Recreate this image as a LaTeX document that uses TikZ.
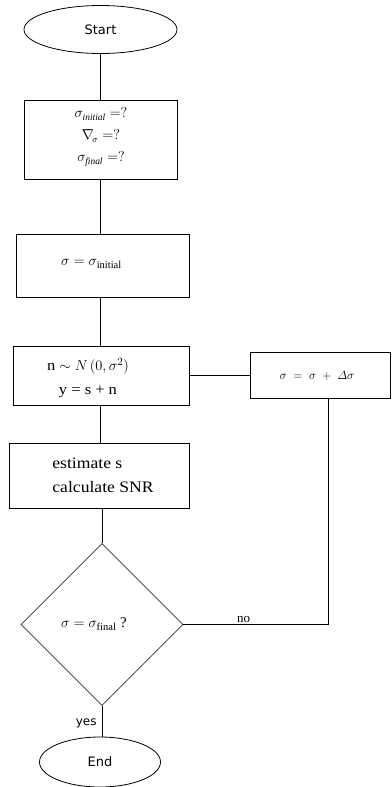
\documentclass[tikz,border=0pt]{standalone}
\usepackage{amsmath}
\usepackage{fontspec}
\setmainfont{Liberation Serif}
\newfontfamily\sansf{DejaVu Sans}
\newfontfamily\wideserif[FakeStretch=1.1]{Liberation Serif}
\usetikzlibrary{shapes.geometric}
\begin{document}
\begin{tikzpicture}[x=1pt,y=-1pt,line width=0.8pt,
  boxst/.style={draw,rectangle,inner sep=0pt},
  term/.style={draw,ellipse,inner sep=0pt,font=\sansf\fontsize{13}{15}\selectfont},
  decide/.style={draw,diamond,aspect=1,inner sep=0pt,draw=black!80},
  txt/.style={inner sep=0pt,align=center},
  lbl/.style={inner sep=1pt}]
\useasboundingbox (0,0) rectangle (391,787);
% shapes
\node[term,minimum width=153pt,minimum height=48pt] (start) at (100.5,29.5) {Start};
\node[boxst,minimum width=153pt,minimum height=79pt] (b1) at (100.5,139.5) {};
\node[boxst,minimum width=173pt,minimum height=63pt] (b2) at (102.5,265.5) {};
\node[boxst,minimum width=176pt,minimum height=59pt] (b3) at (101,375.5) {};
\node[boxst,minimum width=180pt,minimum height=65pt] (b4) at (99,475.5) {};
\node[boxst,minimum width=140pt,minimum height=46pt] (rb) at (320,375) {};
\node[decide,minimum width=162pt,minimum height=162pt] (dia) at (102,624.5) {};
\node[term,minimum width=121pt,minimum height=50pt] (end) at (100,762) {End};
% texts
\node[txt,font=\fontsize{13.5}{22}\selectfont] (t1) at (101,137)
  {$\sigma_{\mathit{initial}} = ?$\\ $\nabla_{\!\sigma} = ?$\\ $\sigma_{\mathit{final}} = ?$};
\node[txt,font=\fontsize{15}{18}\selectfont] (t2) at (91.5,264) {$\sigma = \sigma_{\mathrm{initial}}$};
\node[txt,font=\wideserif\fontsize{15}{24}\selectfont] (t3) at (88,378)
  {n $\sim N\,(0,\sigma^{2})$\\ y = s + n};
\node[txt,align=left,font=\wideserif\fontsize{16}{24}\selectfont] (t4) at (103,475)
  {estimate s\\ calculate SNR};
\node[txt,font=\fontsize{13}{16}\selectfont] (t5) at (317,376) {$\sigma\;=\;\sigma\;+\;\varDelta\sigma$};
\node[txt,font=\fontsize{15}{18}\selectfont] (t6) at (94,624) {$\sigma = \sigma_{\mathrm{final}}$ ?};
% connectors
\coordinate (c1) at (328,624.5);
\draw (start.south) -- (start.south |- b1.north);
\draw (b1.south -| start.south) -- (b2.north -| start.south);
\draw (b2.south -| start.south) -- (b3.north -| start.south);
\draw (b3.south -| start.south) -- (b4.north -| start.south);
\draw (b4.south -| dia.north) -- (dia.north);
\draw (b3.east) -- (b3.east -| rb.west);
\draw (dia.east) -- node[lbl,above,font=\fontsize{13}{15}\selectfont,xshift=-12pt] {no} (c1) -- (c1 |- rb.south);
\draw (dia.south) -- node[lbl,left,font=\sansf\fontsize{12}{14}\selectfont,xshift=-4pt,yshift=-2pt] {yes} (dia.south |- end.north);
\end{tikzpicture}
\end{document}
